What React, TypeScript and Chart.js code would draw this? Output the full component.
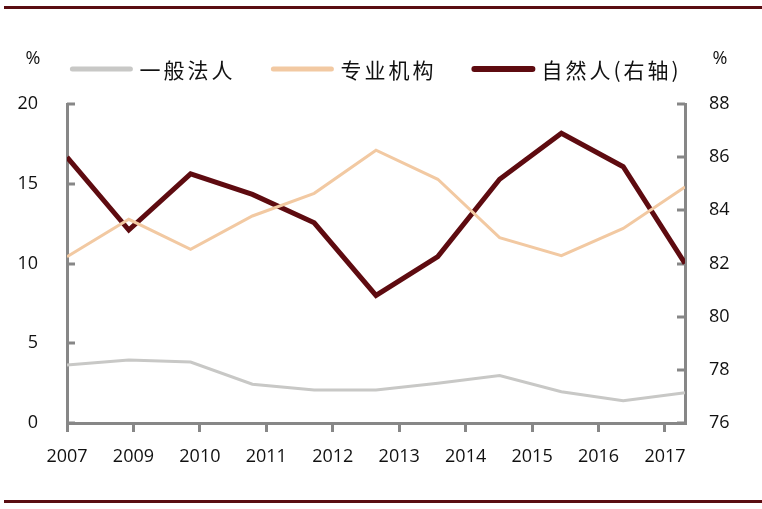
import React, { useEffect, useRef } from "react";
import { Chart, registerables } from "chart.js";

Chart.register(...registerables);

// ---- data ----
const yearLabels = ["2007", "2009", "2010", "2011", "2012", "2013", "2014", "2015", "2016", "2017"];
const generalCorp = [3.64, 3.95, 3.82, 2.43, 2.07, 2.07, 2.49, 2.97, 1.96, 1.4, 1.9];
const institutions = [10.43, 12.77, 10.89, 12.98, 14.4, 17.1, 15.28, 11.62, 10.49, 12.2, 14.8];
const individuals = [86.0, 83.26, 85.37, 84.6, 83.53, 80.8, 82.26, 85.17, 86.9, 85.64, 82.0];
const seriesNames = ["一般法人", "专业机构", "自然人(右轴)"];
const leftTicks = { min: 0, max: 20, step: 5 };
const rightTicks = { min: 76, max: 88, step: 2 };
const yearTickStep = 1.0751; // label spacing in point units (labels not aligned to points)

const COLORS = {
  gray: "#c8c8c6",
  peach: "#f2c9a2",
  maroon: "#5e0b10",
  axis: "#878787",
  rule: "#5a0d12",
  text: "#111111",
};
const TICK_FONT = { family: "'Open Sans', 'DejaVu Sans', sans-serif", size: 18 };
const CJK_FONT = "'Noto Sans CJK SC', 'Noto Sans', sans-serif";

const toPoints = (arr: number[]) => arr.map((v, i) => ({ x: i, y: v }));

const decorPlugin = {
  id: "decor",
  beforeDraw(chart: any) {
    const ctx = chart.ctx;
    ctx.save();
    ctx.fillStyle = "#ffffff";
    ctx.fillRect(0, 0, chart.width, chart.height);
    ctx.fillStyle = COLORS.rule;
    ctx.fillRect(4, 6, chart.width - 4, 3);
    ctx.fillRect(4, 500, chart.width - 4, 3);
    ctx.restore();
  },
  beforeDatasetsDraw(chart: any) {
    const ctx = chart.ctx;
    ctx.save();
    ctx.strokeStyle = COLORS.axis;
    ctx.lineWidth = 3;
    const yl = chart.scales.y;
    const yr = chart.scales.y1;
    yl.ticks.forEach((t: any) => {
      const py = Math.round(yl.getPixelForValue(t.value));
      ctx.beginPath();
      ctx.moveTo(yl.right, py);
      ctx.lineTo(yl.right + 8, py);
      ctx.stroke();
    });
    yr.ticks.forEach((t: any) => {
      const py = Math.round(yr.getPixelForValue(t.value));
      ctx.beginPath();
      ctx.moveTo(yr.left, py);
      ctx.lineTo(yr.left - 8, py);
      ctx.stroke();
    });
    ctx.restore();
  },
  afterDraw(chart: any) {
    const ctx = chart.ctx;
    const ds = chart.data.datasets;
    ctx.save();
    // % unit labels
    ctx.fillStyle = COLORS.text;
    ctx.font = `18px ${TICK_FONT.family}`;
    ctx.textAlign = "center";
    ctx.textBaseline = "middle";
    ctx.fillText("%", 33, 59);
    ctx.fillText("%", 720, 59);
    // legend
    ctx.font = `21px ${CJK_FONT}`;
    (ctx as any).letterSpacing = "3px";
    ctx.textAlign = "left";
    const lineW = 62;
    const gapLT = 7;
    const gapItem = 36;
    const widths = ds.map((d: any) => ctx.measureText(d.label).width);
    const total = widths.reduce((a: number, w: number) => a + lineW + gapLT + w, 0) + gapItem * (ds.length - 1);
    let x = (chart.chartArea.left + chart.chartArea.right) / 2 - total / 2;
    const ly = 69;
    ds.forEach((d: any, i: number) => {
      ctx.strokeStyle = d.borderColor;
      ctx.lineWidth = i === 2 ? 6 : 5;
      ctx.lineCap = "round";
      ctx.beginPath();
      ctx.moveTo(x + 2, ly);
      ctx.lineTo(x + lineW - 2, ly);
      ctx.stroke();
      x += lineW + gapLT;
      ctx.fillStyle = COLORS.text;
      ctx.fillText(d.label, x, ly + 1);
      x += widths[i] + gapItem;
    });
    ctx.restore();
  },
};

export default function App() {
  const ref = useRef<HTMLCanvasElement | null>(null);
  useEffect(() => {
    if (!ref.current) return;
    const chart = new Chart(ref.current, {
      type: "line",
      data: {
        datasets: [
          {
            label: seriesNames[0],
            data: toPoints(generalCorp),
            borderColor: COLORS.gray,
            borderWidth: 3,
            pointRadius: 0,
            yAxisID: "y",
            borderJoinStyle: "miter",
          },
          {
            label: seriesNames[1],
            data: toPoints(institutions),
            borderColor: COLORS.peach,
            borderWidth: 3,
            pointRadius: 0,
            yAxisID: "y",
            borderJoinStyle: "miter",
          },
          {
            label: seriesNames[2],
            data: toPoints(individuals),
            borderColor: COLORS.maroon,
            borderWidth: 5,
            pointRadius: 0,
            yAxisID: "y1",
            borderJoinStyle: "miter",
          },
        ],
      },
      options: {
        responsive: false,
        animation: false,
        devicePixelRatio: 1,
        layout: { padding: { top: 104, left: 0, right: 0, bottom: 0 } },
        plugins: { legend: { display: false }, tooltip: { enabled: false } },
        scales: {
          x: {
            type: "linear",
            min: 0,
            max: individuals.length - 1,
            afterBuildTicks: (scale: any) => {
              scale.ticks = yearLabels.map((_, i) => ({ value: i * yearTickStep }));
            },
            afterFit: (scale: any) => {
              scale.height = 86;
            },
            ticks: {
              callback: (_v: any, i: number) => yearLabels[i],
              font: TICK_FONT,
              color: COLORS.text,
              padding: 14,
              maxRotation: 0,
              autoSkip: false,
            },
            grid: { drawOnChartArea: false, drawTicks: true, tickLength: 9, color: COLORS.axis, lineWidth: 3 },
            border: { display: true, color: COLORS.axis, width: 3 },
          },
          y: {
            type: "linear",
            position: "left",
            min: leftTicks.min,
            max: leftTicks.max,
            ticks: { stepSize: leftTicks.step, font: TICK_FONT, color: COLORS.text, padding: 29 },
            afterFit: (scale: any) => {
              scale.width = 67;
            },
            grid: { drawOnChartArea: false, drawTicks: false },
            border: { display: true, color: COLORS.axis, width: 3 },
          },
          y1: {
            type: "linear",
            position: "right",
            min: rightTicks.min,
            max: rightTicks.max,
            ticks: { stepSize: rightTicks.step, font: TICK_FONT, color: COLORS.text, padding: 24 },
            afterFit: (scale: any) => {
              scale.width = 77;
            },
            grid: { drawOnChartArea: false, drawTicks: false },
            border: { display: true, color: COLORS.axis, width: 3 },
          },
        },
      },
      plugins: [decorPlugin],
    } as any);
    return () => chart.destroy();
  }, []);
  return (
    <div style={{ position: "absolute", left: 0, top: 0, width: 762, height: 509, background: "#fff" }}>
      <canvas ref={ref} width={762} height={509} style={{ display: "block" }} />
    </div>
  );
}
